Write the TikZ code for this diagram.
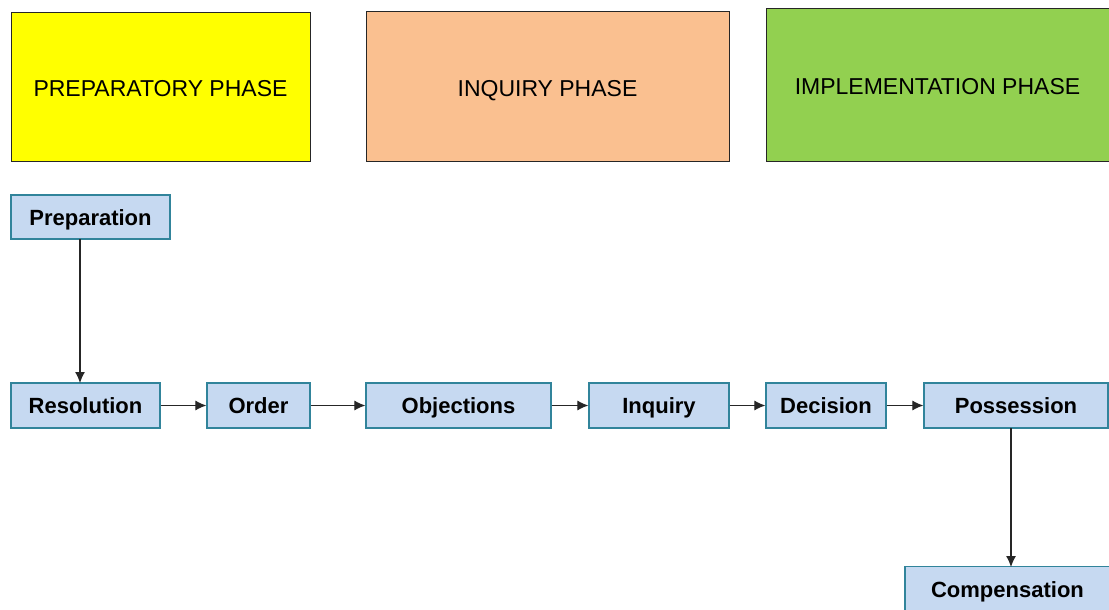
\documentclass[tikz,border=0pt]{standalone}
\usepackage{fontspec}
\setmainfont{Liberation Sans}
\usetikzlibrary{arrows.meta}
\definecolor{phaseY}{HTML}{FFFF00}
\definecolor{phaseO}{HTML}{FAC090}
\definecolor{phaseG}{HTML}{92D050}
\definecolor{stepfill}{HTML}{C6D9F1}
\definecolor{stepline}{HTML}{31849B}
\tikzset{
  phasebox/.style={draw=black!85, line width=1pt, inner sep=0pt, text height=19pt, text depth=0pt, font=\fontsize{23}{27}\selectfont},
  stepbox/.style={draw=stepline, fill=stepfill, line width=1.2pt, inner sep=0pt, minimum height=45pt, text height=19pt, text depth=2.5pt, font=\fontsize{22}{26}\selectfont\bfseries},
  conn/.style={draw=black!85, line width=1.1pt, -{Latex[length=11pt,width=10pt]}}
}
\begin{document}
\begin{tikzpicture}[x=1pt,y=-1pt]
\useasboundingbox (0,0) rectangle (1109,610);
\fill[white] (0,0) rectangle (1109,610);
% phase boxes
\node[phasebox, fill=phaseY, minimum width=299pt, minimum height=148pt] (pp) at (160.5,87) {PREPARATORY PHASE};
\node[phasebox, fill=phaseO, minimum width=363pt, minimum height=149pt] (ip) at (547.5,86.5) {INQUIRY PHASE};
\node[phasebox, fill=phaseG, minimum width=343pt, minimum height=152pt] (mp) at (937.5,85) {IMPLEMENTATION PHASE};
% steps
\node[stepbox, minimum width=159pt, minimum height=44pt] (prep) at (90.5,217) {Preparation};
\node[stepbox, minimum width=149pt] (res) at (85.5,405.5) {Resolution};
\node[stepbox, minimum width=103pt] (ord) at (258.5,405.5) {Order};
\node[stepbox, minimum width=185pt] (obj) at (458.5,405.5) {Objections};
\node[stepbox, minimum width=140pt] (inq) at (659,405.5) {Inquiry};
\node[stepbox, minimum width=120pt] (dec) at (826,405.5) {Decision};
\node[stepbox, minimum width=184pt] (pos) at (1016,405.5) {Possession};
\node[stepbox, minimum width=205pt] (com) at (1007.5,589) {Compensation};
% connectors
\coordinate (prepb) at (80,239);
\coordinate (rest) at (80,383);
\draw[conn] (prepb) -- (rest);
\draw[conn] (res) -- (ord);
\draw[conn] (ord) -- (obj);
\draw[conn] (obj) -- (inq);
\draw[conn] (inq) -- (dec);
\draw[conn] (dec) -- (pos);
\coordinate (posb) at (1011,428);
\coordinate (comt) at (1011,567);
\draw[conn] (posb) -- (comt);
\end{tikzpicture}
\end{document}
